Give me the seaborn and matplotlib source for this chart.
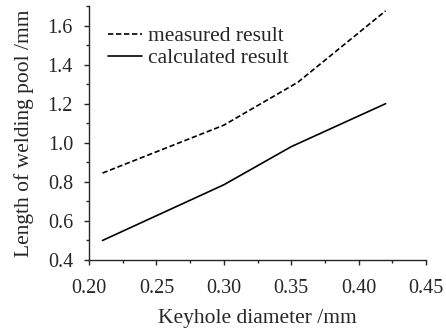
import numpy as np
import pandas as pd
import seaborn as sns
import matplotlib.pyplot as plt
from matplotlib.ticker import MultipleLocator

# Values
measured_x = [0.21, 0.30, 0.355, 0.42]
measured_y = [0.845, 1.09, 1.31, 1.675]
calculated_x = [0.21, 0.30, 0.35, 0.42]
calculated_y = [0.50, 0.785, 0.98, 1.20]

sns.set_style("ticks")
plt.rcParams["font.family"] = ["Liberation Serif", "DejaVu Serif"]

fig = plt.figure(figsize=(4.46, 3.29), dpi=100)
ax = fig.add_axes([0.1996, 0.2097, 0.7556, 0.7721])

sns.lineplot(x=measured_x, y=measured_y, ax=ax, color="black", lw=1.2,
             linestyle=(0, (3.2, 1.6)), label="measured result")
sns.lineplot(x=calculated_x, y=calculated_y, ax=ax, color="black", lw=1.2,
             linestyle="-", label="calculated result")

ax.set_xlim(0.20, 0.45)
ax.set_ylim(0.4, 1.7)
ax.xaxis.set_major_locator(MultipleLocator(0.05))
ax.xaxis.set_minor_locator(MultipleLocator(0.025))
ax.yaxis.set_major_locator(MultipleLocator(0.2))
ax.yaxis.set_minor_locator(MultipleLocator(0.1))
ax.set_xticklabels([f"{v:.2f}" for v in ax.get_xticks()])
ax.set_yticklabels([f"{v:.1f}" for v in ax.get_yticks()])
ax.tick_params(which="major", direction="out", length=3.5, width=1, labelsize=14.5)
ax.tick_params(which="minor", direction="out", length=2, width=1)
ax.tick_params(axis="x", which="major", pad=10)
ax.tick_params(axis="y", which="major", pad=8)
ax.set_xlabel("Keyhole diameter /mm", fontsize=15.5, labelpad=8)
ax.set_ylabel("Length of welding pool /mm", fontsize=15.5, labelpad=10)
sns.despine(ax=ax)
for s in ["left", "bottom"]:
    ax.spines[s].set_linewidth(1)

ax.legend(loc="upper left", frameon=False, fontsize=15.5, handlelength=1.6,
          handletextpad=0.25, labelspacing=0.1, borderaxespad=0.0,
          bbox_to_anchor=(0.03, 0.955))

fig.savefig("out.png", dpi=100)
